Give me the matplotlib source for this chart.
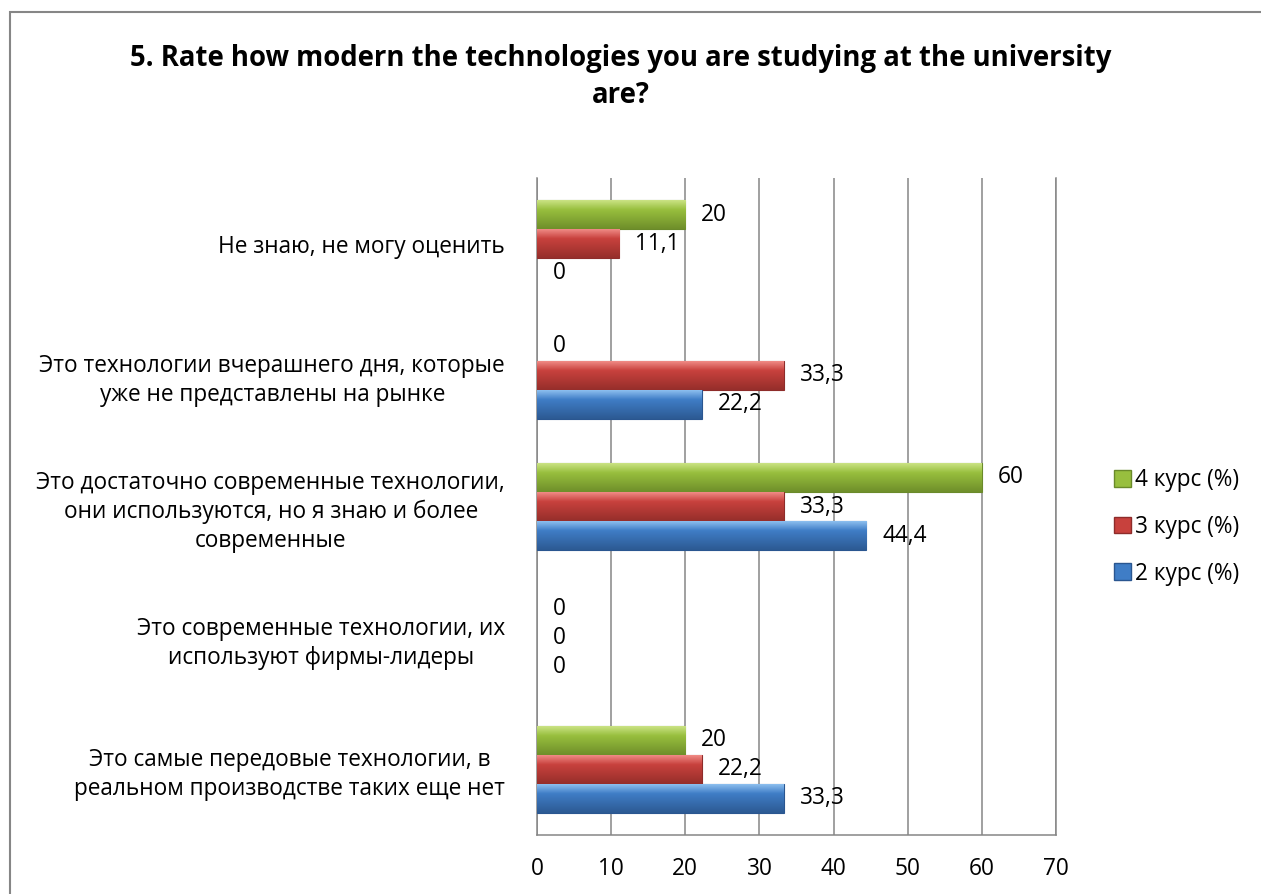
import numpy as np
import matplotlib
matplotlib.use("Agg")
import matplotlib.pyplot as plt
from matplotlib.patches import Patch, Rectangle
from matplotlib.colors import to_rgb

plt.rcParams['font.family'] = ['Open Sans', 'DejaVu Sans']

categories = [
    "Не знаю, не могу оценить",
    "Это технологии вчерашнего дня, которые\nуже не представлены на рынке",
    "Это достаточно современные технологии,\nони используются, но я знаю и более\nсовременные",
    "Это современные технологии, их\nиспользуют фирмы-лидеры",
    "Это самые передовые технологии, в\nреальном производстве таких еще нет",
]
kurs4 = [20, 0, 60, 0, 20]
kurs3 = [11.1, 33.3, 33.3, 0, 22.2]
kurs2 = [0, 22.2, 44.4, 0, 33.3]
series_names = ["4 курс (%)", "3 курс (%)", "2 курс (%)"]
xticks = [0, 10, 20, 30, 40, 50, 60, 70]

# (top light, middle, bottom dark, edge)
shades = [
    ("#cfe68a", "#98bf3e", "#6f8f2a", "#6a8a2a"),
    ("#f3918c", "#c8413d", "#962e2b", "#8e2c2a"),
    ("#93c4f2", "#3f7dc6", "#2c5a93", "#2a5690"),
]
fs = 16.3

fig = plt.figure(figsize=(12.61, 8.94), dpi=100)
ax = fig.add_axes([537/1261, 1-835/894, (1056-537)/1261, (835-178)/894])

h = 0.222
y = np.arange(len(categories))
series = [kurs4, kurs3, kurs2]


def grad(c_top, c_mid, c_bot, n=40):
    a = np.array(to_rgb(c_top)); m = np.array(to_rgb(c_mid)); b = np.array(to_rgb(c_bot))
    rows = []
    for v in np.linspace(0, 1, n):
        if v < 0.35:
            rows.append(a + (m - a) * (v / 0.35))
        else:
            rows.append(m + (b - m) * ((v - 0.35) / 0.65))
    return np.array(rows)[:, None, :]


for k, vals in enumerate(series):
    yy = y + (k - 1) * h
    bars = ax.barh(yy, vals, height=h, color=shades[k][1],
                   edgecolor=shades[k][3], linewidth=0.8, zorder=3)
    g = grad(*shades[k][:3])
    for bar, v, yc in zip(bars, vals, yy):
        if v > 0:
            im = ax.imshow(g, extent=[0, v, yc + h/2, yc - h/2], aspect='auto',
                           origin='upper', zorder=3.5, interpolation='bilinear')
            im.set_clip_path(bar)
        else:
            bar.set_linewidth(0)
        lab = ("%g" % v).replace(".", ",")
        ax.annotate(lab, (v, yc), xytext=(11.5, 0), textcoords='offset points',
                    ha='left', va='center', fontsize=fs, color='black', zorder=5)

ax.set_xlim(0, 70)
ax.set_ylim(4.5, -0.5)
ax.set_xticks(xticks)
ax.set_yticks(y)
ax.set_yticklabels(categories, fontsize=fs, multialignment='center', linespacing=1.27)
ax.tick_params(axis='x', length=0, pad=16, labelsize=fs)
ax.tick_params(axis='y', length=0, pad=23)
ax.grid(axis='x', color='#868686', linewidth=1.1, zorder=0)
ax.set_axisbelow(True)
for s in ['left', 'bottom', 'right']:
    ax.spines[s].set_color('#868686')
    ax.spines[s].set_linewidth(1.1)
ax.spines['top'].set_visible(False)

handles = [Patch(facecolor=shades[k][1], edgecolor=shades[k][3], label=series_names[k])
           for k in range(3)]
fig.legend(handles=handles, loc='center left', bbox_to_anchor=(1103/1261, 1-527/894),
           frameon=False, fontsize=fs, handlelength=0.75, handleheight=0.75,
           handletextpad=0.15, labelspacing=1.0, borderpad=0)

fig.text(621/1261, 1-77/894, "5. Rate how modern the technologies you are studying at the university\nare?",
         ha='center', va='center', fontsize=19.8, fontweight='bold', linespacing=1.32)

fig.patches.append(Rectangle((10/1261, -0.2), 1.5, 1.2 - 12/894, transform=fig.transFigure,
                             fill=False, edgecolor='#868686', linewidth=1.5))

fig.savefig("out.png", dpi=100)
